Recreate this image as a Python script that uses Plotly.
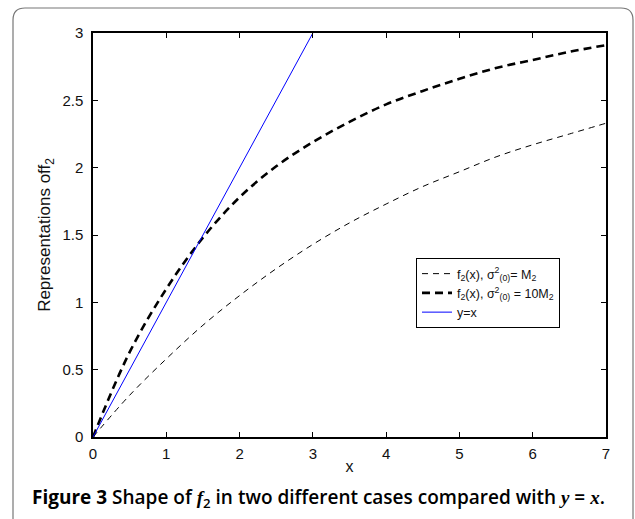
import plotly.graph_objects as go

# ---- data ----
x_vals = [0, 0.5, 1, 1.5, 2, 2.5, 3, 3.5, 4, 4.5, 5, 5.5, 6, 6.5, 7]
f2_m2 = [0, 0.31, 0.58, 0.83, 1.05, 1.25, 1.43, 1.59, 1.73, 1.86, 1.97, 2.08, 2.17, 2.25, 2.33]
f2_10m2 = [0, 0.63, 1.10, 1.48, 1.78, 2.01, 2.19, 2.34, 2.47, 2.57, 2.66, 2.74, 2.80, 2.86, 2.91]
yx_x = [0, 3]
yx_y = [0, 3]

x_ticks = [0, 1, 2, 3, 4, 5, 6, 7]
y_ticks = [0, 0.5, 1, 1.5, 2, 2.5, 3]
y_tick_text = ["0", "0.5", "1", "1.5", "2", "2.5", "3"]

names = [
    "f<sub>2</sub>(x), σ<sup>2</sup><sub>(0)</sub>= M<sub>2</sub>",
    "f<sub>2</sub>(x), σ<sup>2</sup><sub>(0)</sub> = 10M<sub>2</sub>",
    "y=x",
]

W, H = 635, 519
ML, MR, MT, MB = 93, 29, 33, 82
PW, PH = W - ML - MR, H - MT - MB


def px(xp):
    return (xp - ML) / PW


def py(yp):
    return (H - MB - yp) / PH


fig = go.Figure()
fig.add_trace(go.Scatter(x=x_vals, y=f2_m2, mode="lines", name=names[0],
                         line=dict(color="black", width=1, dash="6px,5px", shape="spline")))
fig.add_trace(go.Scatter(x=x_vals, y=f2_10m2, mode="lines", name=names[1],
                         line=dict(color="black", width=2.6, dash="8px,5px", shape="spline")))
fig.add_trace(go.Scatter(x=yx_x, y=yx_y, mode="lines", name=names[2],
                         line=dict(color="#0000ff", width=1)))

axis_common = dict(showgrid=False, zeroline=False, showline=True, linecolor="black",
                   linewidth=1.5, mirror="ticks", ticks="inside", ticklen=5,
                   tickcolor="black", tickwidth=1,
                   tickfont=dict(family="Liberation Sans, Arial", size=15, color="#111"))

fig.update_xaxes(range=[0, 7], tickvals=x_ticks, ticktext=[str(t) for t in x_ticks],
                 ticklabelstandoff=2,
                 title=dict(text="x", font=dict(family="Liberation Sans, Arial", size=16, color="#111"),
                            standoff=0), **axis_common)
fig.update_yaxes(range=[0, 3], tickvals=y_ticks, ticktext=y_tick_text,
                 ticklabelstandoff=5,
                 title=dict(text="Representations off<sub>2</sub>",
                            font=dict(family="Liberation Sans, Arial", size=17, color="#111"),
                            standoff=7), **axis_common)

# rounded outer frame
L, T, R, B, r = 13, 8, 633, 540, 12
path = (f"M {px(L)},{py(B)} L {px(L)},{py(T + r)} Q {px(L)},{py(T)} {px(L + r)},{py(T)} "
        f"L {px(R - r)},{py(T)} Q {px(R)},{py(T)} {px(R)},{py(T + r)} L {px(R)},{py(B)}")
fig.add_shape(type="path", path=path, xref="paper", yref="paper",
              line=dict(color="#777", width=1.2), layer="below")

caption = ("<b>Figure 3</b> Shape of <span style=\"font-family:'Liberation Serif';font-style:italic\">f</span>"
           "<sub>2</sub> in two different cases compared with "
           "<span style=\"font-family:'Liberation Serif';font-style:italic\">y</span> = "
           "<span style=\"font-family:'Liberation Serif';font-style:italic\">x</span>.")
fig.add_annotation(text=caption, xref="paper", yref="paper", x=px(30), y=py(498),
                   xanchor="left", yanchor="middle", showarrow=False,
                   font=dict(family="Open Sans", size=19, color="black", weight=600))

fig.update_layout(
    width=W, height=H, autosize=False,
    margin=dict(l=ML, r=MR, t=MT, b=MB),
    paper_bgcolor="white", plot_bgcolor="white",
    showlegend=True,
    legend=dict(x=px(416), y=py(258), xanchor="left", yanchor="top",
                bgcolor="white", bordercolor="black", borderwidth=1,
                font=dict(family="Liberation Sans, Arial", size=12.5, color="#111"),
                tracegroupgap=0, itemwidth=30),
)

fig.write_html("out.html")
